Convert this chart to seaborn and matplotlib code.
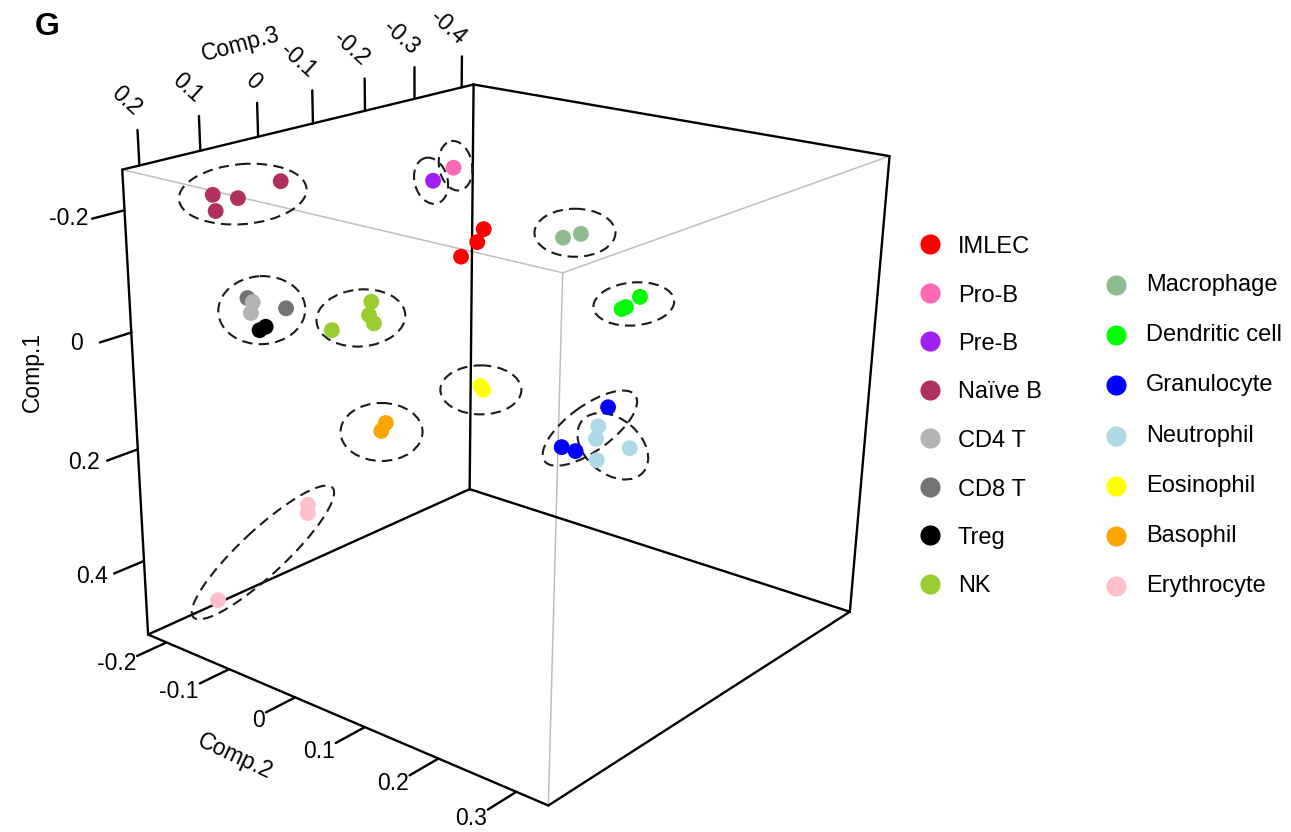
import numpy as np
import pandas as pd
import matplotlib
matplotlib.use("Agg")
import matplotlib.pyplot as plt
from matplotlib.patches import Ellipse
import seaborn as sns

# ---------------------------------------------------------------------------
# PCA scores of the samples (first three components)
# ---------------------------------------------------------------------------
cell = (["IMLEC"] * 3 + ["Pro-B"] + ["Pre-B"] + ["Naïve B"] * 4 +
        ["CD8 T"] * 2 + ["CD4 T"] * 2 + ["Treg"] * 2 + ["NK"] * 4 +
        ["Macrophage"] * 2 + ["Dendritic cell"] * 3 + ["Granulocyte"] * 3 +
        ["Neutrophil"] * 4 + ["Eosinophil"] * 2 + ["Basophil"] * 2 +
        ["Erythrocyte"] * 3)

comp1 = [-0.0638, -0.0428, -0.0188,
         -0.2044,
         -0.1740,
         -0.2154, -0.1916, -0.2104, -0.2350,
         -0.0758, -0.0607,
         -0.0698, -0.0539,
         -0.0289, -0.0339,
         -0.0575, -0.0376, -0.0256, -0.0158,
         -0.1397, -0.1456,
         -0.0583, -0.0612, -0.0761,
         0.0995, 0.1585, 0.1646,
         0.1574, 0.1765, 0.1907, 0.2087,
         0.1096, 0.1156,
         0.1365, 0.1486,
         0.3240, 0.3372, 0.5299]

comp2 = [-0.1098, -0.1116, -0.1224,
         -0.0821,
         -0.1136,
         -0.1779, -0.1719, -0.1573, -0.1279,
         -0.1074, -0.0749,
         -0.1025, -0.1014,
         -0.0905, -0.0866,
         -0.0278, -0.0267, -0.0207, -0.0522,
         0.0920, 0.1058,
         0.1873, 0.1902, 0.1990,
         0.1849, 0.1576, 0.1695,
         0.1510, 0.1522, 0.1822, 0.1584,
         0.0287, 0.0317,
         -0.0050, -0.0069,
         -0.1198, -0.1178, -0.2290]

comp3 = [-0.2818, -0.2709, -0.2521,
         -0.1801,
         -0.1822,
         0.1391, 0.1419, 0.1202, 0.0806,
         0.1656, 0.1386,
         0.1626, 0.1674,
         0.1662, 0.1603,
         0.0471, 0.0529, 0.0518, 0.0876,
         -0.1505, -0.1654,
         -0.1246, -0.1286, -0.1424,
         -0.1081, -0.0587, -0.0687,
         -0.1433, -0.1375, -0.1616, -0.1308,
         -0.0836, -0.0847,
         0.0517, 0.0576,
         0.0559, 0.0588, 0.1029]

legend_left = ["IMLEC", "Pro-B", "Pre-B", "Naïve B", "CD4 T", "CD8 T", "Treg", "NK"]
legend_right = ["Macrophage", "Dendritic cell", "Granulocyte", "Neutrophil",
                "Eosinophil", "Basophil", "Erythrocyte"]

palette = {
    "IMLEC": "#FF0000", "Pro-B": "#FF69B4", "Pre-B": "#A020F0",
    "Naïve B": "#B03060", "CD4 T": "#B3B3B3", "CD8 T": "#737373",
    "Treg": "#000000", "NK": "#9ACD32", "Macrophage": "#8FBC8F",
    "Dendritic cell": "#00FF00", "Granulocyte": "#0000FF",
    "Neutrophil": "#ADD8E6", "Eosinophil": "#FFFF00",
    "Basophil": "#FFA500", "Erythrocyte": "#FFC0CB",
}

ticks1 = [-0.2, 0, 0.2, 0.4]
ticks2 = [-0.2, -0.1, 0, 0.1, 0.2, 0.3]
ticks3 = [0.2, 0.1, 0, -0.1, -0.2, -0.3, -0.4]

# axis limits of the box
lim1 = (-0.2644, 0.5367)   # Comp.1 (min at the top)
lim2 = (-0.2305, 0.3395)   # Comp.2
lim3 = (-0.4260, 0.2271)   # Comp.3 (max at the front-left)

# ---------------------------------------------------------------------------
# perspective camera
# ---------------------------------------------------------------------------
AZIM, ELEV, DIST, FOCAL = -49.2047, 22.72528, 8.09481, 2109.84058
ASPECT = np.array([0.99943, 1.0, 0.93674])
ORIGIN = (420.69805, 502.4916)
SHIFT = (0.32969, 0.38098)      # off-axis shift of the box in the view plane

_a, _e = np.radians(AZIM), np.radians(ELEV)
VR = np.array([-np.sin(_a), np.cos(_a), 0.0])
VU = np.array([-np.sin(_e) * np.cos(_a), -np.sin(_e) * np.sin(_a), np.cos(_e)])
VV = np.array([np.cos(_e) * np.cos(_a), np.cos(_e) * np.sin(_a), np.sin(_e)])


def to_box(c1, c2, c3):
    """data values -> box coordinates in [-1, 1]"""
    X = 2 * (np.asarray(c2, float) - lim2[0]) / (lim2[1] - lim2[0]) - 1
    Y = 2 * (lim3[1] - np.asarray(c3, float)) / (lim3[1] - lim3[0]) - 1
    Z = 2 * (lim1[1] - np.asarray(c1, float)) / (lim1[1] - lim1[0]) - 1
    return X, Y, Z


def project(X, Y, Z):
    P = np.stack(np.broadcast_arrays(np.asarray(X, float) * ASPECT[0],
                                     np.asarray(Y, float) * ASPECT[1],
                                     np.asarray(Z, float) * ASPECT[2]), -1)
    depth = DIST - P @ VV
    sx = ORIGIN[0] + FOCAL * (P @ VR + SHIFT[0]) / depth
    sy = ORIGIN[1] - FOCAL * (P @ VU + SHIFT[1]) / depth
    return sx, sy


# ---------------------------------------------------------------------------
sns.set_theme(style="white")
plt.rcParams["font.family"] = ["Liberation Sans", "DejaVu Sans"]
plt.rcParams["text.color"] = "black"

W, H = 1291, 832
fig = plt.figure(figsize=(W / 100, H / 100), dpi=100)
ax = fig.add_axes([0, 0, 1, 1])
ax.set_xlim(0, W)
ax.set_ylim(H, 0)
ax.set_axis_off()

BLACK_LW = 1.7
GREY = "#BEBEBE"

# box edges; the corner (X=+1, Y=-1, Z=+1) is drawn in grey
corners = [(x, y, z) for x in (-1, 1) for y in (-1, 1) for z in (-1, 1)]
hidden = (1, -1, 1)
for i, p in enumerate(corners):
    for q in corners[i + 1:]:
        if sum(a != b for a, b in zip(p, q)) != 1:
            continue
        sx, sy = project([p[0], q[0]], [p[1], q[1]], [p[2], q[2]])
        if hidden in (p, q):
            ax.plot(sx, sy, color=GREY, lw=1.1, zorder=1, solid_capstyle="round")
        else:
            ax.plot(sx, sy, color="black", lw=BLACK_LW, zorder=2,
                    solid_capstyle="round")

TICK_Y = 0.155   # tick length along -Y (box units)
TICK_Z = 0.14    # tick length along +Z
FS = 16.5

# Comp.1 ticks on the left vertical edge
_, _, z1 = to_box(ticks1, 0, 0)
for t, z in zip(ticks1, z1):
    sx, sy = project([-1, -1], [-1, -1 - TICK_Y], [z, z])
    ax.plot(sx, sy, color="black", lw=BLACK_LW, zorder=2)
    lx, ly = project(-1, -1 - TICK_Y * 1.6, z)
    ax.text(lx - 4, ly - 5, f"{t:g}", ha="center", va="center", fontsize=FS)

# Comp.2 ticks on the lower-left edge
x2, _, _ = to_box(0, ticks2, 0)
for t, x in zip(ticks2, x2):
    sx, sy = project([x, x], [-1, -1 - TICK_Y], [-1, -1])
    ax.plot(sx, sy, color="black", lw=BLACK_LW, zorder=2)
    lx, ly = project(x, -1 - TICK_Y * 1.2, -1)
    ax.text(lx + 5, ly + 5, f"{t:g}", ha="right", va="center", fontsize=FS)

# Comp.3 ticks on the upper-left edge
_, y3, _ = to_box(0, 0, ticks3)
for t, y in zip(ticks3, y3):
    sx, sy = project([-1, -1], [y, y], [1, 1 + TICK_Z])
    ax.plot(sx, sy, color="black", lw=BLACK_LW, zorder=2)
    lx, ly = project(-1, y, 1 + TICK_Z * 1.45)
    ax.text(lx + 1, ly - 2, f"{t:g}", ha="right", va="center", rotation=-42,
            rotation_mode="anchor", fontsize=FS)

# axis titles
tx, ty = project(-1, -0.35, 1.385)
ax.text(tx - 6, ty, "Comp.3", ha="center", va="center", rotation=15, fontsize=FS)
tx, ty = project(-0.063, -1.418, -1)
ax.text(tx - 5, ty + 6, "Comp.2", ha="center", va="center", rotation=-25, fontsize=FS)
tx, ty = project(-1, -1.455, 0.30)
ax.text(tx - 5, ty, "Comp.1", ha="center", va="center", rotation=90, fontsize=FS)

# samples
X, Y, Z = to_box(comp1, comp2, comp3)
sx, sy = project(X, Y, Z)
df = pd.DataFrame({"cell": cell, "comp1": comp1, "comp2": comp2, "comp3": comp3,
                   "sx": sx, "sy": sy})
sns.scatterplot(data=df, x="sx", y="sy", hue="cell", palette=palette, s=130,
                linewidth=0, legend=False, ax=ax, zorder=5)

# dashed outlines around the groups: (members, width, height, angle, dx, dy)
outlines = [
    (["Naïve B"], 128, 60, 5, -4, -2),
    (["Pre-B"], 33, 47, 15, -2, 0),
    (["Pro-B"], 33, 50, 10, 2, -2),
    (["Macrophage"], 81, 48, 0, 3, -3),
    (["Dendritic cell"], 81, 43, 5, 3, 1),
    (["CD4 T", "CD8 T", "Treg"], 87, 68, 3, -5, -4),
    (["NK"], 89, 57, 5, 8, 2),
    (["Eosinophil"], 81, 49, 0, -1, 2),
    (["Basophil"], 82, 58, 0, -2, 5),
    (["Granulocyte"], 112, 45, 36, 5, -1),
    (["Neutrophil"], 80, 55, -40, 0, 3),
    (["Erythrocyte"], 190, 45, 43, 0, 0),
]
for members, w, h, ang, dx, dy in outlines:
    sel = df[df["cell"].isin(members)]
    cx = (sel["sx"].min() + sel["sx"].max()) / 2 + dx
    cy = (sel["sy"].min() + sel["sy"].max()) / 2 + dy
    ax.add_patch(Ellipse((cx, cy), w, h, angle=-ang, fill=False,
                         edgecolor="#1a1a1a", lw=1.5, linestyle=(0, (5, 3)),
                         zorder=4))

# legend
LFS = 17
for i, name in enumerate(legend_left):
    y = 244 + 48.5 * i
    ax.scatter([930], [y], s=210, color=palette[name], linewidths=0, zorder=5)
    ax.text(958, y + 3, name, ha="left", va="center", fontsize=LFS)
for i, name in enumerate(legend_right):
    y = 285 + 50.2 * i
    ax.scatter([1116], [y], s=210, color=palette[name], linewidths=0, zorder=5)
    ax.text(1146, y, name, ha="left", va="center", fontsize=LFS)

ax.text(47, 27, "G", ha="center", va="center", fontsize=23, fontweight="bold")

fig.savefig("out.png", dpi=100, facecolor="white")
